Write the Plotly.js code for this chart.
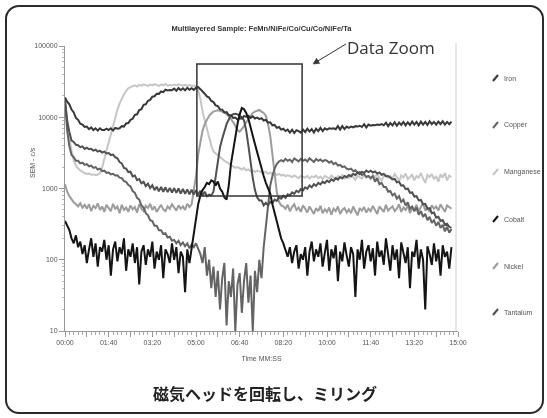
<!DOCTYPE html>
<html><head><meta charset="utf-8">
<script src="https://cdn.plot.ly/plotly-3.0.1.min.js"></script>
<style>
html,body{margin:0;padding:0;background:#fff}
#chart{position:absolute;left:0;top:0;width:547px;height:418px;filter:grayscale(1)}
#frame{position:absolute;left:5px;top:5px;width:539px;height:409px;box-sizing:border-box;border:2px solid #2b2b2b;border-radius:14px;pointer-events:none}
</style>
</head><body>
<div id="chart"></div><div id="frame"></div>
<script>
// ---- data (counts per second, sampled every 5 s from 00:00) ----
const chartTitle = 'Multilayered Sample: FeMn/NiFe/Co/Cu/Co/NiFe/Ta';
const timeStart = 0;
const timeStep = 5;
const seriesNames = ['Iron','Copper','Manganese','Cobalt','Nickel','Tantalum'];

const iron = [19000,16500,15200,12800,11700,9800,9200,8100,7900,7300,
7400,6800,7200,6600,7000,6500,7000,6600,6600,6900,
6600,7000,6500,7100,6900,7000,7500,7400,8200,8300,
9200,9500,10800,11000,12600,13000,14900,15200,17000,17500,
19400,19700,21400,21300,23000,22500,24300,23700,24100,24000,
25300,23600,25700,24000,25500,23900,25900,24300,25600,24200,
26000,26500,24800,22600,21400,19600,18900,16900,16300,14700,
14300,12900,12800,11700,11800,10700,10700,9800,9900,9300,
9700,9600,10400,10200,10500,9800,10300,9600,9900,9400,
9700,9000,9200,8400,8500,7700,7800,7100,7300,6700,
6900,6400,6700,6100,6700,6000,6600,6400,6100,6700,
6200,6900,6300,6800,6100,6900,6400,7100,6400,7000,
6700,7000,6900,7000,6800,7500,6700,7500,6800,7400,
7100,7400,7200,7500,7400,7600,7300,8000,7200,7900,
7600,7800,7700,7900,7800,8000,7700,8400,7500,8300,
7700,8500,7600,8400,7800,8600,7700,8500,7800,8700,
7900,8600,7700,8700,7900,8600,7800,8800,8000,8600,
7900,8700,8000,8800,7900,8600,8000,8700];

const copper = [17000,6500,3900,2950,2750,2450,2450,2250,2300,2150,
2200,2050,2100,1950,2000,1850,1900,1750,1780,1660,
1680,1580,1610,1520,1530,1420,1400,1270,1240,1120,
1070,920,870,740,700,580,540,450,420,360,
350,300,300,260,260,230,235,205,210,185,
190,170,185,160,175,155,170,145,165,150,
170,140,120,90,150,60,100,40,80,30,
70,20,55,90,12,50,30,75,10,45,
65,18,50,90,25,60,10,70,35,100,
55,150,300,700,1100,1500,1900,2200,2400,2500,
2400,2600,2450,2550,2350,2650,2500,2400,2600,2450,
2550,2400,2650,2500,2350,2600,2450,2550,2400,2500,
2450,2300,2400,2200,2300,2100,2150,2000,2050,1900,
1850,1900,1750,1800,1650,1700,1550,1600,1450,1500,
1400,1500,1250,1400,1150,1200,1050,1050,900,920,
800,850,720,780,650,700,580,640,520,560,
480,540,430,480,400,440,360,400,330,360,
300,340,280,310,250,290,240,270];

const manganese = [18000,9000,5000,3400,2500,2100,1900,1800,1700,1650,
1600,1620,1560,1580,1540,1570,1650,1950,2600,3400,
4500,5600,7500,10000,12700,15500,18500,21000,23500,25500,
26500,27500,28000,27000,28500,27800,29000,28200,27500,28800,
28000,29200,28300,27600,28900,28100,29300,27800,28600,28000,
28800,27900,29000,28200,27700,28500,27600,28300,27500,27800,
27000,24000,18000,12000,9000,6500,5000,4000,3300,3100,
2900,2750,2600,2450,2350,2250,2100,2050,1950,2000,
1900,1850,1950,1800,1850,1750,1800,1700,1780,1720,
1700,1650,1720,1600,1680,1580,1620,1550,1600,1520,
1560,1480,1540,1500,1450,1520,1470,1400,1500,1460,
1420,1500,1380,1480,1440,1520,1400,1470,1360,1500,
1450,1380,1520,1430,1350,1490,1420,1540,1380,1460,
1400,1560,1430,1330,1500,1450,1380,1580,1420,1480,
1350,1520,1440,1600,1400,1300,1480,1550,1420,1500,
1380,1600,1450,1250,1520,1430,1620,1350,1480,1560,
1300,1500,1420,1650,1380,1200,1550,1450,1600,1350,
1500,1250,1580,1420,1650,1300,1520,1450];

const cobalt = [350,300,260,200,170,220,150,180,120,160,
90,140,200,110,170,80,150,130,190,100,
160,60,140,180,95,150,120,200,70,140,
110,170,90,150,45,130,160,85,140,110,
180,75,130,100,160,55,140,120,90,170,
100,150,65,130,110,35,140,90,150,250,
400,600,800,950,1050,1200,1150,1300,1250,1100,
1250,1000,900,750,700,1100,2200,3500,5500,8000,
11000,13500,13000,11500,9500,7500,5500,4200,3200,2500,
1900,1500,1200,1000,850,600,450,330,250,200,
170,140,110,150,90,130,160,75,120,100,
150,60,130,180,95,140,110,170,80,125,
190,70,140,105,160,50,130,95,175,115,
80,150,120,30,140,100,190,75,130,160,
95,145,60,180,110,135,85,200,120,70,
160,100,140,55,175,120,90,150,40,130,
110,190,75,140,100,20,155,120,85,170,
95,140,60,160,110,130,75,150];

const nickel = [1150,900,780,700,640,600,560,620,540,590,
520,600,480,570,530,620,500,560,470,590,
540,480,610,520,560,450,590,500,540,470,
580,510,550,460,600,520,480,570,530,610,
500,560,470,540,590,510,480,560,520,600,
540,490,580,520,560,500,610,550,600,900,
1500,3000,4500,6500,8000,9300,10500,11300,12000,12300,
12500,12300,12000,11600,11000,10300,9500,8600,7500,6600,
6300,6800,7500,8500,9500,10500,11500,12000,12500,12700,
12000,11500,10500,8000,5500,3000,1600,900,650,580,
560,520,590,480,550,600,500,540,470,580,
520,460,560,500,440,530,480,570,450,510,
470,540,430,520,480,560,440,500,530,460,
510,450,560,480,420,530,490,550,460,520,
480,570,500,440,560,510,470,590,490,530,
560,480,520,600,470,540,500,580,450,530,
510,590,480,550,620,490,540,470,580,520,
560,490,600,530,470,580,540,520];

const tantalum = [17000,8800,6200,4700,4500,4100,4050,3800,3900,3600,
3750,3550,3600,3400,3500,3300,3400,3200,3300,3100,
3150,2950,3000,2750,2650,2350,2250,1950,1900,1700,
1720,1480,1520,1310,1360,1180,1240,1080,1170,1010,
1110,950,1060,910,1050,900,1040,890,1020,880,
1010,870,1000,850,990,840,970,830,960,820,
950,810,930,790,900,780,820,800,900,1400,
2500,3800,5000,6500,8000,9300,10500,11000,11200,11000,
10500,10000,9000,6500,4000,2300,1400,950,750,680,
680,580,630,580,650,620,700,670,750,720,
790,740,830,800,880,840,930,890,980,940,
1040,990,1100,1040,1150,1090,1200,1140,1250,1190,
1290,1230,1340,1280,1400,1330,1450,1380,1500,1440,
1550,1480,1610,1540,1670,1590,1720,1650,1780,1700,
1780,1680,1740,1620,1680,1560,1600,1490,1500,1420,
1340,1360,1220,1240,1100,1110,980,1000,870,880,
770,780,680,690,600,610,520,530,450,460,
390,400,350,360,310,320,290,280];

const xTickSeconds = [0,50,100,150,200,250,300,350,400,450,500,550,600,650,700,750,800,850,900];
const xTickText = ['00:00','','01:40','','03:20','','05:00','','06:40','','08:20','','10:00','','11:40','','13:20','','15:00'];
const yTickVals = [10,100,1000,10000,100000];
const yTickText = ['10','100','1000','10000','100000'];
const zoomBox = {tStart:302, tEnd:543, low:785, high:55900};

// ---- styles ----
const seriesData = {Iron:iron, Copper:copper, Manganese:manganese, Cobalt:cobalt, Nickel:nickel, Tantalum:tantalum};
const seriesColor = {Iron:'#383838', Copper:'#646464', Manganese:'#c6c6c6', Cobalt:'#141414', Nickel:'#9c9c9c', Tantalum:'#505050'};
const drawOrder = ['Manganese','Nickel','Copper','Tantalum','Iron','Cobalt'];

const traces = drawOrder.map(n => ({
  type:'scatter', mode:'lines', name:n, x0:timeStart, dx:timeStep, y:seriesData[n],
  line:{color:seriesColor[n], width:2}, showlegend:false, hoverinfo:'skip'
}));

const legendY = [78,125,172,219,266,312];
const plotTop = 46, plotBottom = 331, plotLeft = 65, plotRight = 458;
const py = p => (plotBottom - p)/(plotBottom - plotTop);
const px = p => (p - plotLeft)/(plotRight - plotLeft);

const annotations = [];
const shapes = [];
seriesNames.forEach((n,i) => {
  annotations.push({xref:'paper', yref:'paper', x:px(502), y:py(legendY[i]), xanchor:'left', yanchor:'middle',
    text:n, showarrow:false, font:{family:'Liberation Sans, Arial', size:7, color:'#555'}});
  shapes.push({type:'line', xref:'paper', yref:'paper', x0:px(493), y0:py(legendY[i]+3), x1:px(498), y1:py(legendY[i]-3),
    line:{color:seriesColor[n], width:2}});
});
annotations.push({xref:'paper', yref:'paper', x:px(391), y:py(47), xanchor:'center', yanchor:'middle',
  text:'Data Zoom', showarrow:false, font:{family:'Open Sans', size:17, color:'#333'}});
annotations.push({xref:'paper', yref:'paper', x:px(32), y:py(163), textangle:-90, xanchor:'center', yanchor:'middle',
  text:'SEM - c/s', showarrow:false, font:{family:'Liberation Sans, Arial', size:7, color:'#555'}});
annotations.push({xref:'paper', yref:'paper', x:px(265), y:py(393), xanchor:'center', yanchor:'middle',
  text:'磁気ヘッドを回転し、ミリング', showarrow:false, font:{family:'Noto Sans CJK JP', size:16, color:'#222', weight:'bold'}});

// pointer arrow of the "Data Zoom" callout
const arrowTail = [346,44], arrowTip = [313,64];
shapes.push({type:'line', xref:'paper', yref:'paper', x0:px(arrowTail[0]), y0:py(arrowTail[1]), x1:px(317), y1:py(61.5),
  line:{color:'#333', width:1}});
(function(){
  const dx = arrowTip[0]-arrowTail[0], dy = arrowTip[1]-arrowTail[1], L = Math.hypot(dx,dy);
  const ux = dx/L, uy = dy/L, hl = 6, hw = 3;
  const bx = arrowTip[0]-ux*hl, by = arrowTip[1]-uy*hl;
  const p1 = [bx-uy*hw, by+ux*hw], p2 = [bx+uy*hw, by-ux*hw];
  shapes.push({type:'path', xref:'paper', yref:'paper',
    path:`M ${px(arrowTip[0])} ${py(arrowTip[1])} L ${px(p1[0])} ${py(p1[1])} L ${px(p2[0])} ${py(p2[1])} Z`,
    fillcolor:'#333', line:{color:'#333', width:0.5}});
})();

shapes.push({type:'rect', xref:'x', yref:'y', x0:zoomBox.tStart, x1:zoomBox.tEnd,
  y0:zoomBox.low, y1:zoomBox.high, line:{color:'#333', width:1.5}, fillcolor:'rgba(0,0,0,0)'});
shapes.push({type:'line', xref:'paper', yref:'paper', x0:px(456), x1:px(456), y0:0, y1:1.01, line:{color:'#cfcfcf', width:1}, layer:'below'});

const layout = {
  width:547, height:418,
  margin:{l:plotLeft, r:547-plotRight, t:plotTop, b:418-plotBottom, pad:0},
  paper_bgcolor:'#fff', plot_bgcolor:'#fff',
  title:{text:chartTitle, x:0.478, xanchor:'center', y:1-28/418, yanchor:'middle',
    font:{family:'Liberation Sans, Arial', size:7.5, color:'#333', weight:'bold'}},
  xaxis:{range:[0,900], showgrid:false, zeroline:false, showline:true, linecolor:'#999', linewidth:1,
    tickmode:'array', tickvals:xTickSeconds, ticktext:xTickText, ticks:'outside', ticklen:5, tickcolor:'#999',
    tickfont:{family:'Liberation Sans, Arial', size:7, color:'#555'},
    minor:{tickmode:'linear', tick0:0, dtick:10, ticks:'outside', ticklen:2.5, tickcolor:'#aaa'},
    title:{text:'Time MM:SS', standoff:10, font:{family:'Liberation Sans, Arial', size:7, color:'#555'}}},
  yaxis:{type:'log', range:[1,5], showgrid:false, zeroline:false, showline:true, linecolor:'#999', linewidth:1,
    tickmode:'array', tickvals:yTickVals, ticktext:yTickText, ticks:'outside', ticklen:5, tickcolor:'#999',
    tickfont:{family:'Liberation Sans, Arial', size:7, color:'#555'},
    minor:{dtick:'D1', ticks:'outside', ticklen:2, tickcolor:'#bbb'}},
  showlegend:false,
  annotations:annotations, shapes:shapes
};
Plotly.newPlot('chart', traces, layout, {displayModeBar:false, staticPlot:true});
</script>
</body></html>
